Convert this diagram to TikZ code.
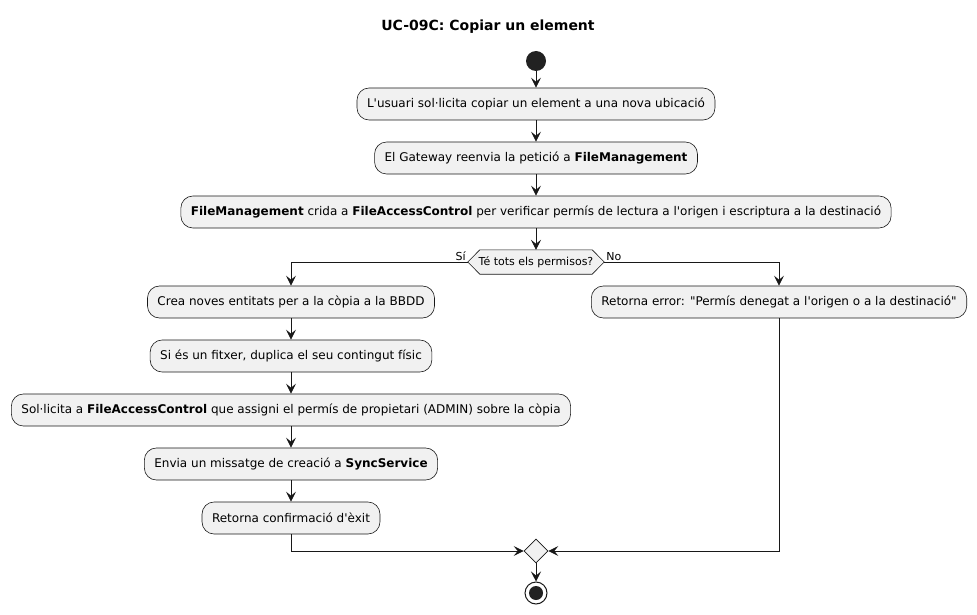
\documentclass[tikz,border=0pt]{standalone}
\usepackage{fontspec}
\setmainfont{DejaVu Sans}[Ligatures=TeXOff]
\usetikzlibrary{arrows.meta,calc,shapes.geometric}
\definecolor{ln}{HTML}{181818}
\definecolor{bx}{HTML}{F1F1F1}
\definecolor{dk}{HTML}{222222}
\tikzset{
  act/.style={draw=ln, fill=bx, line width=0.6pt, rounded corners=12pt, minimum height=32pt, inner xsep=10pt, font=\fontsize{12}{14}\selectfont},
  flow/.style={draw=ln, line width=0.8pt, -{Stealth[length=10pt,width=10pt,inset=4pt]}},
  lbl/.style={font=\fontsize{11}{13}\selectfont, inner sep=1pt},
}
\begin{document}
\begin{tikzpicture}[x=1pt,y=-1pt]
\useasboundingbox (0,0) rectangle (977,615);
\node[font=\fontsize{14}{16}\selectfont\bfseries] (title) at (488,27) {UC-09C: Copiar un element};
\node[circle, fill=dk, minimum size=20pt, inner sep=0pt] (start) at (536,61) {};
\node[act] (a1) at (536,104) {L'usuari sol·licita copiar un element a una nova ubicació};
\node[act] (a2) at (536,158) {El Gateway reenvia la petició a \textbf{FileManagement}};
\node[act] (a3) at (536,212) {\textbf{FileManagement} crida a \textbf{FileAccessControl} per verificar permís de lectura a l'origen i escriptura a la destinació};
\node[inner sep=0pt, minimum width=136pt, minimum height=24pt] (d) at (536,262) {};
\draw[draw=ln, fill=bx, line width=0.6pt] (d.west) -- ($(d.north west)+(12,0)$) -- ($(d.north east)+(-12,0)$) -- (d.east) -- ($(d.south east)+(-12,0)$) -- ($(d.south west)+(12,0)$) -- cycle;
\node[font=\fontsize{11}{13}\selectfont, inner sep=0pt] (dtext) at (d) {Té tots els permisos?};
\node[act] (b1) at (291,302) {Crea noves entitats per a la còpia a la BBDD};
\node[act] (b2) at (291,356) {Si és un fitxer, duplica el seu contingut físic};
\node[act] (b3) at (291,410) {Sol·licita a \textbf{FileAccessControl} que assigni el permís de propietari (ADMIN) sobre la còpia};
\node[act] (b4) at (291,464) {Envia un missatge de creació a \textbf{SyncService}};
\node[act] (b5) at (291,518) {Retorna confirmació d'èxit};
\node[act] (c1) at (779,302) {Retorna error: "Permís denegat a l'origen o a la destinació"};
\node[diamond, draw=ln, fill=bx, line width=0.6pt, minimum size=24pt, inner sep=0pt] (m) at (536,551) {};
\node[circle, draw=ln, line width=1pt, fill=white, minimum size=22pt, inner sep=0pt] (end) at (536,593) {};
\node[circle, fill=dk, minimum size=14pt, inner sep=0pt] (endin) at (end) {};
\node[lbl, anchor=south east] (lsi) at ($(d.west)+(-1,0)$) {Sí};
\node[lbl, anchor=south west] (lno) at ($(d.east)+(1,0)$) {No};
\draw[flow] (start) -- (a1);
\draw[flow] (a1) -- (a2);
\draw[flow] (a2) -- (a3);
\draw[flow] (a3) -- (d);
\draw[flow] (d.west) -| (b1.north);
\draw[flow] (d.east) -| (c1.north);
\draw[flow] (b1) -- (b2);
\draw[flow] (b2) -- (b3);
\draw[flow] (b3) -- (b4);
\draw[flow] (b4) -- (b5);
\draw[flow] (b5.south) |- (m.west);
\draw[flow] (c1.south) |- (m.east);
\draw[flow] (m) -- (end);
\end{tikzpicture}
\end{document}
